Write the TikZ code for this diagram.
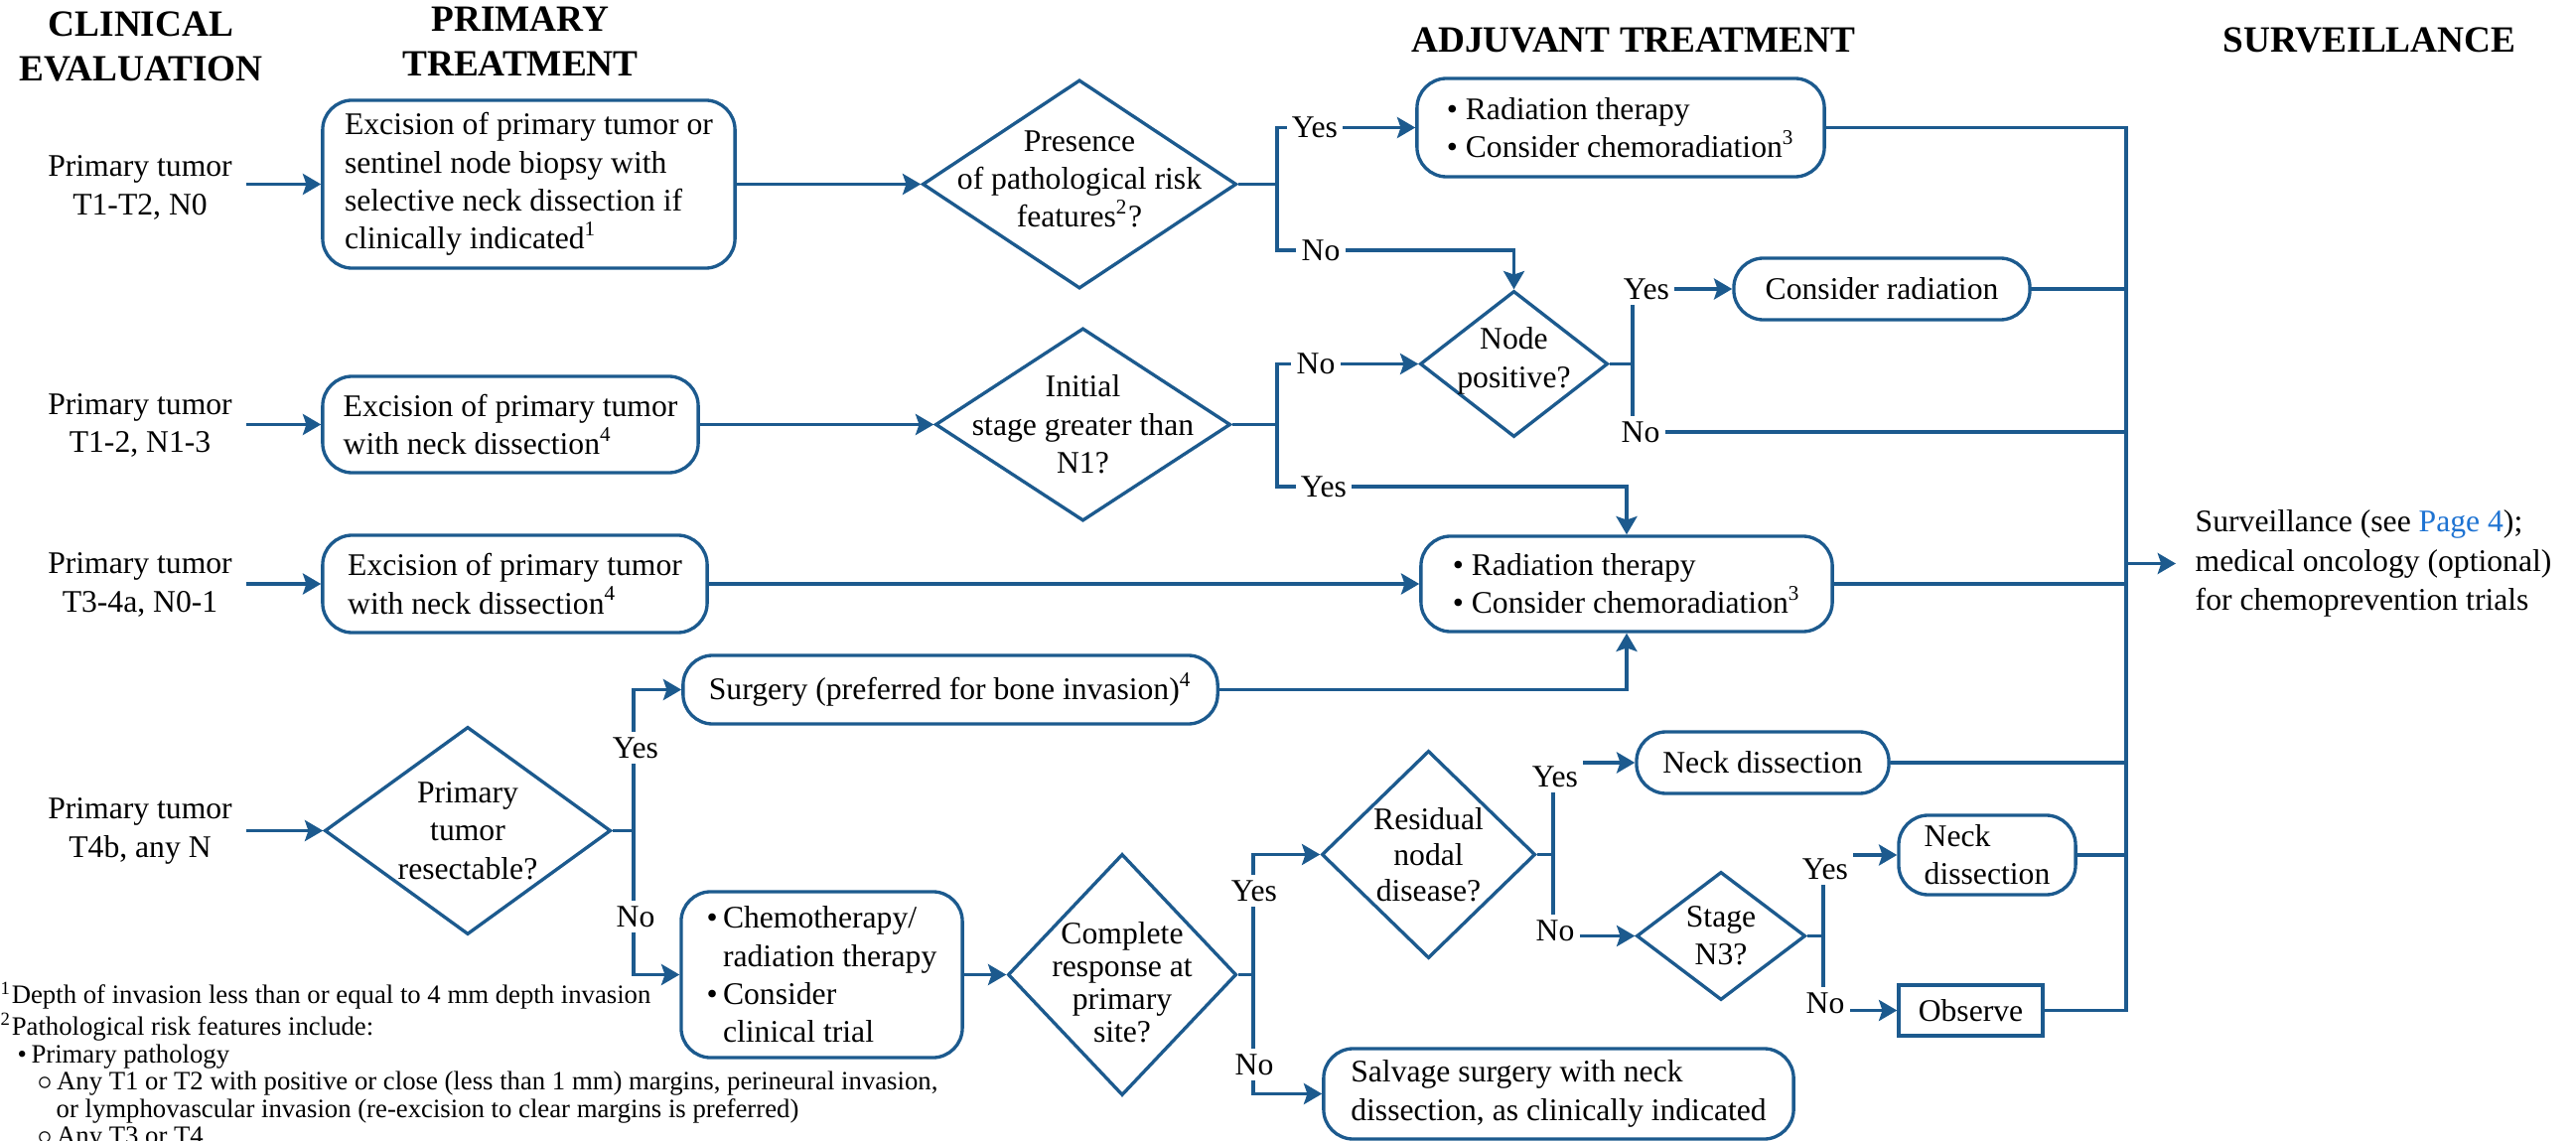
\documentclass[tikz,border=0pt]{standalone}
\usepackage{fontspec}
\setmainfont{Liberation Serif}
\usepackage{tikz}
\usetikzlibrary{arrows.meta}
\usetikzlibrary{shapes.geometric}
\definecolor{nccn}{HTML}{1C5A8E}
\definecolor{pagelink}{HTML}{1E73D2}
\newcommand{\flowfont}{\fontsize{9}{10.9}\selectfont}
\newcommand{\flowhead}{\fontsize{10.6}{12.8}\selectfont\bfseries}
\newcommand{\flownote}{\fontsize{7.6}{7.85}\selectfont}

\begin{document}
\begin{tikzpicture}[x=0.01cm, y=-0.01cm,
  conn/.style={nccn, line width=0.95pt},
  arr/.style={conn, -{Stealth[length=5.2pt, width=6pt, inset=1pt]}},
  proc/.style={draw=nccn, line width=0.95pt, rounded corners=8.5pt, align=left, inner sep=2pt, font=\flowfont},
  decision/.style={draw=nccn, line width=0.95pt, shape=diamond, inner sep=0pt},
  stage/.style={align=center, inner sep=0pt, minimum width=2.12cm, font=\flowfont},
  ans/.style={fill=white, inner sep=1.5pt, font=\flowfont},
  head/.style={align=center, inner sep=0pt, font=\flowhead}]

\useasboundingbox (0,0) rectangle (2594,1149);

\node[head, anchor=north] (hClin) at (142,11) {CLINICAL\\EVALUATION};
\node[head, anchor=north] (hPrim) at (524,6) {PRIMARY\\TREATMENT};
\node[head, anchor=base] (hAdj) at (1645,53) {ADJUVANT TREATMENT};
\node[head, anchor=base] (hSurv) at (2386,53) {SURVEILLANCE};

\node[stage] (tumA) at (141,189) {Primary tumor\\T1-T2, N0};
\node[stage] (tumB) at (141,428.5) {Primary tumor\\T1-2, N1-3};
\node[stage] (tumC) at (141,589) {Primary tumor\\T3-4a, N0-1};
\node[stage] (tumD) at (141,837) {Primary tumor\\T4b, any N};

\node[proc, minimum width=4.15cm, minimum height=1.69cm] (exA) at (532.5,185.5) {Excision of primary tumor or\\sentinel node biopsy with\\selective neck dissection if\\clinically indicated\textsuperscript{1}};
\node[proc, minimum width=3.78cm, minimum height=0.97cm] (exB) at (514,427.5) {Excision of primary tumor\\with neck dissection\textsuperscript{4}};
\node[proc, minimum width=3.87cm, minimum height=0.98cm] (exC) at (518.5,588) {Excision of primary tumor\\with neck dissection\textsuperscript{4}};
\node[proc, minimum width=4.10cm, minimum height=0.99cm] (rtA) at (1632,128.5) {\textbullet~Radiation therapy\\\textbullet~Consider chemoradiation\textsuperscript{3}};
\node[proc, minimum width=2.98cm, minimum height=0.62cm] (crad) at (1895,291) {Consider radiation};
\node[proc, minimum width=4.14cm, minimum height=0.96cm] (rtB) at (1638,588) {\textbullet~Radiation therapy\\\textbullet~Consider chemoradiation\textsuperscript{3}};
\node[proc, minimum width=5.38cm, minimum height=0.69cm] (surg) at (957,694.5) {Surgery (preferred for bone invasion)\textsuperscript{4}};
\node[proc, minimum width=2.83cm, minimum height=1.67cm] (chemo) at (827.5,981.5) {\textbullet\,Chemotherapy/\\\hphantom{\textbullet\,}radiation therapy\\\textbullet\,Consider\\\hphantom{\textbullet\,}clinical trial};
\node[proc, minimum width=2.54cm, minimum height=0.62cm] (neckA) at (1775,768) {Neck dissection};
\node[proc, minimum width=1.78cm, minimum height=0.80cm] (neckB) at (2001,861) {Neck\\dissection};
\node[proc, sharp corners, minimum width=1.45cm, minimum height=0.51cm] (obs) at (1984.5,1017.5) {Observe};
\node[proc, minimum width=4.73cm, minimum height=0.91cm] (salv) at (1569.5,1101.5) {Salvage surgery with neck\\dissection, as clinically indicated};

\node[decision, minimum width=3.16cm, minimum height=2.10cm, label={[font=\flowfont, align=center, yshift=0.05cm]center:{Presence\\of pathological risk\\features\textsuperscript{2}?}}] (risk) at (1087,185.5) {};
\node[decision, minimum width=1.89cm, minimum height=1.47cm, label={[font=\flowfont, align=center, yshift=0.03cm]center:{Node\\positive?}}] (npos) at (1524.5,366.5) {};
\node[decision, minimum width=2.97cm, minimum height=1.94cm, label={[font=\flowfont, align=center]center:{Initial\\stage greater than\\N1?}}] (stg) at (1090.5,427.5) {};
\node[decision, minimum width=2.88cm, minimum height=2.09cm, label={[font=\flowfont, align=center]center:{Primary\\tumor\\resectable?}}] (resect) at (471,836.5) {};
\node[decision, minimum width=2.30cm, minimum height=2.43cm, label={[font=\fontsize{9}{9.4}\selectfont, align=center, yshift=-0.08cm]center:{Complete\\response at\\primary\\site?}}] (comp) at (1130,981.5) {};
\node[decision, minimum width=2.15cm, minimum height=2.09cm, label={[font=\fontsize{9}{10.2}\selectfont, align=center]center:{Residual\\nodal\\disease?}}] (resid) at (1438.5,860.5) {};
\node[decision, minimum width=1.70cm, minimum height=1.29cm, label={[font=\flowfont, align=center]center:{Stage\\N3?}}] (n3) at (1733,942.5) {};

\node[anchor=west, align=left, inner xsep=0.19cm, inner ysep=0pt, font=\fontsize{9}{11.2}\selectfont] (surv) at (2191,567.5) {Surveillance (see \textcolor{pagelink}{Page 4});\\medical oncology (optional)\\for chemoprevention trials};

\node[anchor=north west, align=left, inner sep=0pt, font=\flownote] (notes) at (0,988) {\textsuperscript{1}Depth of invasion less than or equal to 4 mm depth invasion\\\textsuperscript{2}Pathological risk features include:\\\hspace*{0.17cm}\textbullet\,Primary pathology\\\hspace*{0.37cm}$\circ$\,Any T1 or T2 with positive or close (less than 1 mm) margins, perineural invasion,\\\hspace*{0.56cm}or lymphovascular invasion (re-excision to clear margins is preferred)\\\hspace*{0.37cm}$\circ$\,Any T3 or T4};

\coordinate (jRisk) at (1286,185.5);
\coordinate (riskNo) at (1330,252);
\coordinate (jNpos) at (1644,366.5);
\coordinate (nposNo) at (1652,435);
\coordinate (jStg) at (1286,427.5);
\coordinate (stgYes) at (1333,490);
\coordinate (jRes) at (638,836.5);
\coordinate (jComp) at (1262,981.5);
\coordinate (jResid) at (1564,860.5);
\coordinate (jN3) at (1836,942.5);
\coordinate (busTop) at (2141,128.5);

\draw[arr] (exA.west -| tumA.east) -- (exA.west);
\draw[arr] (exB.west -| tumB.east) -- (exB.west);
\draw[arr] (exC.west -| tumC.east) -- (exC.west);
\draw[arr] (resect.west -| tumD.east) -- (resect.west);
\draw[arr] (exA.east) -- (risk.west);
\draw[conn] (risk.east) -- (jRisk);
\draw[arr] (jRisk) |- (rtA.west);
\draw[arr] (jRisk) |- (npos.north |- riskNo) -- (npos.north);
\draw[conn] (npos.east) -- (jNpos);
\draw[arr] (jNpos) |- (crad.west);
\draw[conn] (jNpos) |- (busTop |- nposNo);
\draw[arr] (exB.east) -- (stg.west);
\draw[conn] (stg.east) -- (jStg);
\draw[arr] (jStg) |- (npos.west);
\draw[arr] (jStg) |- (rtB.north |- stgYes) -- (rtB.north);
\draw[arr] (exC.east) -- (rtB.west);
\draw[arr] (surg.east) -| (rtB.south);
\draw[conn] (resect.east) -- (jRes);
\draw[arr] (jRes) |- (surg.west);
\draw[arr] (jRes) |- (chemo.west);
\draw[arr] (chemo.east) -- (comp.west);
\draw[conn] (comp.east) -- (jComp);
\draw[arr] (jComp) |- (resid.west);
\draw[arr] (jComp) |- (salv.west);
\draw[conn] (resid.east) -- (jResid);
\draw[arr] (jResid) |- (neckA.west);
\draw[arr] (jResid) |- (n3.west);
\draw[conn] (n3.east) -- (jN3);
\draw[arr] (jN3) |- (neckB.west);
\draw[arr] (jN3) |- (obs.west);
\draw[conn] (rtA.east) -- (busTop) -- (busTop |- obs.east) -- (obs.east);
\draw[conn] (crad.east) -- (crad.east -| busTop);
\draw[conn] (rtB.east) -- (rtB.east -| busTop);
\draw[conn] (neckA.east) -- (neckA.east -| busTop);
\draw[conn] (neckB.east) -- (neckB.east -| busTop);
\draw[arr] (surv.west -| busTop) -- (surv.west);

\node[ans] (yRisk) at (1324,128.5) {Yes};
\node[ans] (nRisk) at (riskNo) {No};
\node[ans] (yNpos) at (1658,291) {Yes};
\node[ans] (nNpos) at (nposNo) {No};
\node[ans] (nStg) at (1325,366.5) {No};
\node[ans] (yStg) at (stgYes) {Yes};
\node[ans] (yRes) at (640,753) {Yes};
\node[ans] (nRes) at (640,923) {No};
\node[ans] (yComp) at (1263,897) {Yes};
\node[ans] (nComp) at (1263,1072) {No};
\node[ans] (yResid) at (1566,782) {Yes};
\node[ans] (nResid) at (1566,937) {No};
\node[ans] (yN3) at (1838,875) {Yes};
\node[ans] (nN3) at (1838,1010) {No};
\end{tikzpicture}
\end{document}
